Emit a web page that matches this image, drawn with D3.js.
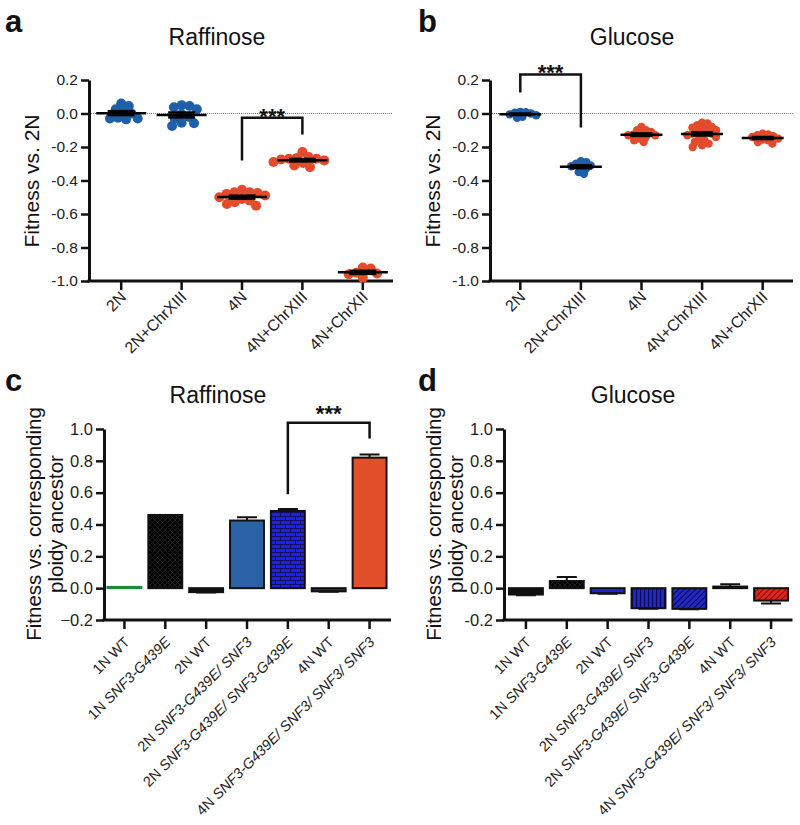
<!DOCTYPE html>
<html>
<head>
<meta charset="utf-8">
<script src="https://cdn.jsdelivr.net/npm/d3@7"></script>
<style>
  body { margin: 0; background: #fff; }
</style>
</head>
<body>
<svg id="fig" width="800" height="825"></svg>
<script>
// ---- data ----
const dotCategories = ['2N', '2N+ChrXIII', '4N', '4N+ChrXIII', '4N+ChrXII'];
const dotYTicks = [-1.0, -0.8, -0.6, -0.4, -0.2, 0.0, 0.2];

// Raffinose (panel a), fitness vs 2N per replicate
const raf2N = [0.01, 0.045, -0.03, 0.025, -0.035, 0.06, -0.03, 0.0, -0.025];
const raf2NChrXIII = [-0.005, 0.037, -0.058, 0.025, -0.075, 0.045, -0.055, -0.03, 0.05, -0.02];
const raf4N = [-0.47, -0.47, -0.475, -0.48, -0.455, -0.5, -0.51, -0.52, -0.53, -0.55, -0.54, -0.49];
const raf4NChrXIII = [-0.23, -0.26, -0.265, -0.27, -0.27, -0.275, -0.28, -0.29, -0.295, -0.31, -0.32];
const raf4NChrXII = [-0.92, -0.925, -0.95, -0.955, -0.98, -0.96];

// Glucose (panel b)
const glu2N = [0.01, 0.008, 0.005, 0.0, -0.005, -0.01, -0.02, -0.025];
const glu2NChrXIII = [-0.285, -0.29, -0.3, -0.31, -0.315, -0.32, -0.33, -0.35, -0.36];
const glu4N = [-0.08, -0.1, -0.1, -0.11, -0.12, -0.125, -0.13, -0.14, -0.15, -0.16, -0.17, -0.13];
const glu4NChrXIII = [-0.055, -0.06, -0.07, -0.08, -0.085, -0.09, -0.1, -0.1, -0.11,
  -0.12, -0.125, -0.13, -0.14, -0.15, -0.16, -0.17, -0.18, -0.19, -0.2, -0.12];
const glu4NChrXII = [-0.12, -0.125, -0.13, -0.135, -0.14, -0.15, -0.155, -0.16, -0.17, -0.18];

const barCategories = ['1N WT', '1N SNF3-G439E', '2N WT', '2N SNF3-G439E/ SNF3',
  '2N SNF3-G439E/ SNF3-G439E', '4N WT', '4N SNF3-G439E/ SNF3/ SNF3/ SNF3'];
const barYTicks = [-0.2, 0.0, 0.2, 0.4, 0.6, 0.8, 1.0];

const rafBarValues = [0.008, 0.46, -0.025, 0.425, 0.485, -0.02, 0.82];
const rafBarErrors = [0, 0, 0.003, 0.02, 0.012, 0.003, 0.02];
const gluBarValues = [-0.04, 0.045, -0.032, -0.126, -0.13, 0.01, -0.078];
const gluBarErrors = [0.004, 0.025, 0.003, 0.003, 0.003, 0.015, 0.018];

// ---- styles ----
const FONT = '"Liberation Sans", Arial, Helvetica, sans-serif';
const BLUE = '#1f5ea8';
const RED = '#e24b2d';
const dotColors = [BLUE, BLUE, RED, RED, RED];
const rafBarFills = ['#2fa84f', 'url(#crossBlack)', '#111', '#2b62a6', 'url(#brickBlue)', '#333', '#e2502b'];
const gluBarFills = ['#111', 'url(#crossBlack)', '#2323d6', 'url(#vstripeBlue)', 'url(#diagBlue)', '#fff', 'url(#diagRed)'];

const svg = d3.select('#fig').style('font-family', FONT);

// patterns
const defs = svg.append('defs');
function pattern(id, w, h, bg, paths, stroke, rotate) {
  const p = defs.append('pattern')
    .attr('id', id)
    .attr('patternUnits', 'userSpaceOnUse')
    .attr('width', w)
    .attr('height', h);
  if (rotate) p.attr('patternTransform', `rotate(${rotate})`);
  p.append('rect').attr('width', w).attr('height', h).attr('fill', bg);
  p.append('path').attr('d', paths).attr('stroke', stroke).attr('stroke-width', 1).attr('fill', 'none');
}
pattern('crossBlack', 5, 5, '#030303', 'M0,0 L5,5 M5,0 L0,5', '#1c1c1c');
pattern('brickBlue', 10, 8, '#1a22e6', 'M0,0.5 H10 M0,4.5 H10 M0.5,0 V4.5 M5.5,4.5 V8', '#101060');
pattern('vstripeBlue', 4, 4, '#1d24d8', 'M0.5,0 V4', '#0a0a40');
pattern('diagBlue', 4, 4, '#2228c8', 'M0.5,0 V4', '#0a0a40', 45);
pattern('diagRed', 4, 4, '#e0241e', 'M0.5,0 V4', '#7a1010', 45);

const hyphenFmt = (v) => d3.format('.1f')(v).replace('\u2212', '-');

function styleAxis(ax, fontSize) {
  ax.select('.domain').attr('stroke', '#111').attr('stroke-width', 3);
  ax.selectAll('.tick line').attr('stroke', '#111').attr('stroke-width', 2.5);
  ax.selectAll('.tick text')
    .attr('fill', '#222')
    .style('font-size', `${fontSize}px`)
    .style('font-family', FONT);
}

function text(x, y, str, size, opts = {}) {
  return svg.append('text')
    .attr('x', x)
    .attr('y', y)
    .attr('text-anchor', opts.anchor || 'middle')
    .attr('font-weight', opts.bold ? 'bold' : 'normal')
    .attr('transform', opts.transform || null)
    .style('font-size', `${size}px`)
    .attr('fill', '#111')
    .text(str);
}

// simple beeswarm: place each dot at the smallest offset that avoids overlap
function swarm(values, y, spacing) {
  const items = values.map((v) => ({ v, py: y(v), dx: 0 })).sort((a, b) => a.py - b.py);
  const placed = [];
  items.forEach((d) => {
    const cands = [0];
    placed.forEach((p) => {
      const dy = Math.abs(p.py - d.py);
      if (dy < spacing) {
        const off = Math.sqrt(spacing * spacing - dy * dy);
        cands.push(p.dx + off, p.dx - off);
      }
    });
    cands.sort((a, b) => Math.abs(a) - Math.abs(b));
    for (const c of cands) {
      const ok = placed.every((p) => Math.hypot(p.dx - c, p.py - d.py) >= spacing - 1e-6);
      if (ok) { d.dx = c; break; }
    }
    placed.push(d);
  });
  return placed;
}

function bracket(x, y, from, to, top, left, right, starsY) {
  const x1 = x(from) + x.bandwidth() / 2;
  const x2 = x(to) + x.bandwidth() / 2;
  svg.append('path')
    .attr('d', `M${x1},${y(left)} V${y(top)} H${x2} V${y(right)}`)
    .attr('fill', 'none')
    .attr('stroke', '#111')
    .attr('stroke-width', 2.5);
  text((x1 + x2) / 2, starsY, '***', 22, { bold: true });
}

// ---- dot panels (a, b) ----
function dotPanel(o) {
  const x = d3.scaleBand().domain(dotCategories).range(o.xRange);
  const y = d3.scaleLinear().domain([-1.0, 0.2]).range([281, 80]);

  svg.append('line')
    .attr('x1', o.axisX).attr('x2', o.xRange[1])
    .attr('y1', y(0)).attr('y2', y(0))
    .attr('stroke', '#777')
    .attr('stroke-dasharray', '1,1');

  const ya = svg.append('g')
    .attr('transform', `translate(${o.axisX},0)`)
    .call(d3.axisLeft(y).tickValues(dotYTicks).tickFormat(hyphenFmt).tickSize(8).tickSizeOuter(0).tickPadding(3));
  styleAxis(ya, 15.5);

  const xa = svg.append('g')
    .attr('transform', `translate(0,${y(-1.0)})`)
    .call(d3.axisBottom(x).tickSize(9).tickSizeOuter(0));
  styleAxis(xa, 16);
  xa.select('.domain').remove();
  xa.append('line')
    .attr('x1', o.axisX - 1.5).attr('x2', o.xRange[1])
    .attr('stroke', '#111').attr('stroke-width', 3);
  xa.selectAll('.tick text')
    .attr('x', 0).attr('y', 0).attr('dy', 0)
    .attr('text-anchor', 'end')
    .attr('transform', 'translate(6,17) rotate(-45)');

  o.groups.forEach((vals, i) => {
    const cx = x(dotCategories[i]) + x.bandwidth() / 2;
    const pts = swarm(vals, y, o.r * 2 * o.pack);
    svg.append('g').selectAll('circle')
      .data(pts)
      .enter()
      .append('circle')
      .attr('cx', (d) => cx + d.dx)
      .attr('cy', (d) => d.py)
      .attr('r', o.r)
      .attr('fill', dotColors[i]);

    const mean = d3.mean(vals);
    const sem = d3.deviation(vals) / Math.sqrt(vals.length);
    const g = svg.append('g').attr('stroke', '#000');
    g.append('line')
      .attr('x1', cx - o.meanW / 2).attr('x2', cx + o.meanW / 2)
      .attr('y1', y(mean)).attr('y2', y(mean))
      .attr('stroke-width', 2.5);
    [mean - sem, mean + sem].forEach((v) => {
      g.append('line')
        .attr('x1', cx - o.semW / 2).attr('x2', cx + o.semW / 2)
        .attr('y1', y(v)).attr('y2', y(v))
        .attr('stroke-width', 2.5);
    });
    g.append('line')
      .attr('x1', cx).attr('x2', cx)
      .attr('y1', y(mean - sem)).attr('y2', y(mean + sem))
      .attr('stroke-width', 2);
  });

  const s = o.sig;
  bracket(x, y, s.from, s.to, s.top, s.left, s.right, s.starsY);

  text(o.titleX, 45, o.title, 23);
  text(o.labelX, 32, o.label, 31, { bold: true, anchor: 'start' });
  text(0, 0, 'Fitness vs. 2N', 21, { transform: `translate(${o.axisX - 50},181) rotate(-90)` });
}

dotPanel({
  xRange: [91, 393], axisX: 89, r: 5, pack: 0.8, meanW: 50, semW: 27,
  groups: [raf2N, raf2NChrXIII, raf4N, raf4NChrXIII, raf4NChrXII],
  sig: { from: '4N', to: '4N+ChrXIII', top: -0.025, left: -0.28, right: -0.125, starsY: 124 },
  title: 'Raffinose', titleX: 217, label: 'a', labelX: 5
});
dotPanel({
  xRange: [490, 793], axisX: 490, r: 4.2, pack: 0.65, meanW: 42, semW: 22,
  groups: [glu2N, glu2NChrXIII, glu4N, glu4NChrXIII, glu4NChrXII],
  sig: { from: '2N', to: '2N+ChrXIII', top: 0.233, left: 0.125, right: -0.084, starsY: 80 },
  title: 'Glucose', titleX: 632, label: 'b', labelX: 418
});

// ---- bar panels (c, d) ----
function barPanel(o) {
  const x = d3.scaleBand().domain(barCategories).range(o.xRange).paddingInner(0.17).paddingOuter(0.085);
  const y = d3.scaleLinear().domain([-0.2, 1.0]).range([620, 429]);

  const ya = svg.append('g')
    .attr('transform', `translate(${o.axisX},0)`)
    .call(d3.axisLeft(y).tickValues(barYTicks).tickFormat(o.fmt).tickSize(8).tickSizeOuter(0).tickPadding(3));
  styleAxis(ya, 16.5);

  const xa = svg.append('g')
    .attr('transform', `translate(0,${y(-0.2)})`)
    .call(d3.axisBottom(x).tickSize(9).tickSizeOuter(0));
  styleAxis(xa, 14.5);
  xa.select('.domain').remove();
  xa.append('line')
    .attr('x1', o.axisX - 1.5).attr('x2', o.xRange[1] + 1)
    .attr('stroke', '#111').attr('stroke-width', 3);
  xa.selectAll('.tick text').each(function (d) {
    const t = d3.select(this).text('')
      .attr('x', 0).attr('y', 0).attr('dy', 0)
      .attr('text-anchor', 'end')
      .attr('transform', 'translate(6,23) rotate(-45)');
    const sp = d.indexOf(' ');
    const rest = d.slice(sp + 1);
    t.append('tspan').text(d.slice(0, sp + 1));
    t.append('tspan').text(rest).style('font-style', rest === 'WT' ? 'normal' : 'italic');
  });

  svg.append('g').selectAll('rect')
    .data(o.values)
    .enter()
    .append('rect')
    .attr('x', (d, i) => x(barCategories[i]))
    .attr('width', x.bandwidth())
    .attr('y', (d) => Math.min(y(d), y(0)))
    .attr('height', (d) => Math.abs(y(d) - y(0)))
    .attr('fill', (d, i) => o.fills[i])
    .attr('stroke', (d, i) => (o.fills[i] === '#2fa84f' ? '#1f8a3a' : '#111'))
    .attr('stroke-width', 2);

  o.values.forEach((v, i) => {
    if (!o.errors[i]) return;
    const cx = x(barCategories[i]) + x.bandwidth() / 2;
    const end = v + Math.sign(v) * o.errors[i];
    svg.append('path')
      .attr('d', `M${cx},${y(v)} V${y(end)} M${cx - 10},${y(end)} H${cx + 10}`)
      .attr('stroke', '#111')
      .attr('stroke-width', 2)
      .attr('fill', 'none');
  });

  if (o.sig) {
    const s = o.sig;
    bracket(x, y, s.from, s.to, s.top, s.left, s.right, s.starsY);
  }

  text(o.titleX, 403, o.title, 23);
  text(o.labelX, 391, o.label, 31, { bold: true, anchor: 'start' });
  text(0, 0, 'Fitness vs. corresponding', 20.5, { transform: `translate(${o.axisX - 63},524) rotate(-90)` });
  text(0, 0, 'ploidy ancestor', 20.5, { transform: `translate(${o.axisX - 41},524) rotate(-90)` });
}

barPanel({
  xRange: [104, 390], axisX: 104, values: rafBarValues, errors: rafBarErrors, fills: rafBarFills,
  fmt: d3.format('.1f'),
  sig: { from: '2N SNF3-G439E/ SNF3-G439E', to: '4N SNF3-G439E/ SNF3/ SNF3/ SNF3', top: 1.04, left: 0.59, right: 0.94, starsY: 421 },
  title: 'Raffinose', titleX: 218, label: 'c', labelX: 5
});
barPanel({
  xRange: [505.5, 791.5], axisX: 504, values: gluBarValues, errors: gluBarErrors, fills: gluBarFills,
  fmt: hyphenFmt,
  title: 'Glucose', titleX: 633, label: 'd', labelX: 418
});
</script>
</body>
</html>
